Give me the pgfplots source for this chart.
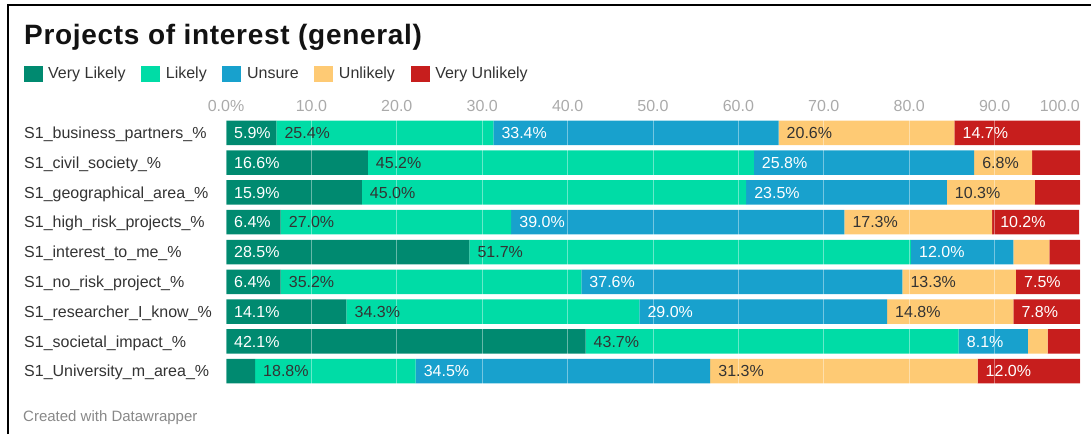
\documentclass[border=0pt]{standalone}
\usepackage{fontspec}
\setmainfont{Liberation Sans}
\newfontfamily\titlefont[LetterSpace=2.5]{Liberation Sans}
\usepackage{pgfplots}
\pgfplotsset{compat=1.18}

\definecolor{vlik}{RGB}{0,138,112}
\definecolor{lik}{RGB}{0,220,166}
\definecolor{uns}{RGB}{24,161,205}
\definecolor{unl}{RGB}{254,202,116}
\definecolor{vunl}{RGB}{199,30,29}
\definecolor{txtdark}{RGB}{51,51,51}
\definecolor{tickgray}{RGB}{170,170,170}
\definecolor{footgray}{RGB}{136,136,136}

\newcommand\fs[1]{\fontsize{#1}{#1}\selectfont}

\begin{document}
\begin{tikzpicture}
\path[use as bounding box] (0pt,0pt) rectangle (1091pt,-434pt);
% screenshot frame
\draw[line width=2.5pt] (8pt,-434pt) -- (8pt,-5pt) -- (1091pt,-5pt);

% title and footer
\node[anchor=base west, inner sep=0pt, font=\titlefont\fs{28}\bfseries, text=black!93] at (24pt,-44pt) {Projects of interest (general)};
\node[anchor=base west, inner sep=0pt, font=\fs{15}, text=footgray] at (23pt,-421pt) {Created with Datawrapper};

% legend
\fill[vlik] (23.5pt,-66pt) rectangle ++(19pt,-16pt);
\node[anchor=base west, inner sep=0pt, font=\fs{16}, text=txtdark] (l1) at (48pt,-78pt) {Very Likely};
\path (l1.base east) ++(15.5pt,12pt) coordinate (s2);
\fill[lik] (s2) rectangle ++(19pt,-16pt);
\node[anchor=base west, inner sep=0pt, font=\fs{16}, text=txtdark] (l2) at ([xshift=24.4pt,yshift=-12pt]s2) {Likely};
\path (l2.base east) ++(15.5pt,12pt) coordinate (s3);
\fill[uns] (s3) rectangle ++(19pt,-16pt);
\node[anchor=base west, inner sep=0pt, font=\fs{16}, text=txtdark] (l3) at ([xshift=24.4pt,yshift=-12pt]s3) {Unsure};
\path (l3.base east) ++(15.5pt,12pt) coordinate (s4);
\fill[unl] (s4) rectangle ++(19pt,-16pt);
\node[anchor=base west, inner sep=0pt, font=\fs{16}, text=txtdark] (l4) at ([xshift=24.4pt,yshift=-12pt]s4) {Unlikely};
\path (l4.base east) ++(15.5pt,12pt) coordinate (s5);
\fill[vunl] (s5) rectangle ++(19pt,-16pt);
\node[anchor=base west, inner sep=0pt, font=\fs{16}, text=txtdark] at ([xshift=24.4pt,yshift=-12pt]s5) {Very Unlikely};

\begin{axis}[
    at={(226pt,-118pt)}, anchor=north west,
    scale only axis, width=854pt, height=268pt,
    xbar stacked, bar width=24.5pt,
    xmin=0, xmax=100, ymin=-0.5, ymax=8.5, y dir=reverse,
    ytick={0,...,8},
    yticklabels={S1\_business\_partners\_\%, S1\_civil\_society\_\%, S1\_geographical\_area\_\%,
        S1\_high\_risk\_projects\_\%, S1\_interest\_to\_me\_\%, S1\_no\_risk\_project\_\%,
        S1\_researcher\_I\_know\_\%, S1\_societal\_impact\_\%, S1\_University\_m\_area\_\%},
    xtick={0,10,...,90},
    xticklabels={0.0\%,10.0,20.0,30.0,40.0,50.0,60.0,70.0,80.0,90.0},
    extra x ticks={100}, extra x tick labels={100.0},
    extra x tick style={x tick label style={anchor=south east}},
    xticklabel pos=upper,
    axis line style={draw=none}, major tick length=0pt,
    xmajorgrids, grid style={white, opacity=0.4, line width=0.8pt},
    axis on top,
    x tick label style={font=\fs{16}, text=tickgray, anchor=south, inner sep=0pt, yshift=6pt},
    y tick label style={font=\fs{16}, text=txtdark, anchor=base west, inner sep=0pt, xshift=-202pt, yshift=-5.7pt},
    nodes near coords, point meta=explicit symbolic,
    visualization depends on=rawx\as\rawx,
    every node near coord/.append style={anchor=base west, inner sep=0pt, font=\fs{16},
        shift={(axis direction cs:-\rawx/2,0)}, xshift=8pt, yshift=-5.7pt},
]
% Very Likely
\addplot[fill=vlik, draw=none, every node near coord/.append style={text=white}] coordinates {
    (5.9,0) [5.9\%] (16.6,1) [16.6\%] (15.9,2) [15.9\%] (6.4,3) [6.4\%] (28.5,4) [28.5\%]
    (6.4,5) [6.4\%] (14.1,6) [14.1\%] (42.1,7) [42.1\%] (3.4,8) []
};
% Likely
\addplot[fill=lik, draw=none, every node near coord/.append style={text=txtdark}] coordinates {
    (25.4,0) [25.4\%] (45.2,1) [45.2\%] (45.0,2) [45.0\%] (27.0,3) [27.0\%] (51.7,4) [51.7\%]
    (35.2,5) [35.2\%] (34.3,6) [34.3\%] (43.7,7) [43.7\%] (18.8,8) [18.8\%]
};
% Unsure
\addplot[fill=uns, draw=none, every node near coord/.append style={text=white}] coordinates {
    (33.4,0) [33.4\%] (25.8,1) [25.8\%] (23.5,2) [23.5\%] (39.0,3) [39.0\%] (12.0,4) [12.0\%]
    (37.6,5) [37.6\%] (29.0,6) [29.0\%] (8.1,7) [8.1\%] (34.5,8) [34.5\%]
};
% Unlikely
\addplot[fill=unl, draw=none, every node near coord/.append style={text=txtdark}] coordinates {
    (20.6,0) [20.6\%] (6.8,1) [6.8\%] (10.3,2) [10.3\%] (17.3,3) [17.3\%] (4.2,4) []
    (13.3,5) [13.3\%] (14.8,6) [14.8\%] (2.3,7) [] (31.3,8) [31.3\%]
};
% Very Unlikely
\addplot[fill=vunl, draw=none, every node near coord/.append style={text=white}] coordinates {
    (14.7,0) [14.7\%] (5.6,1) [] (5.3,2) [] (10.2,3) [10.2\%] (3.6,4) []
    (7.5,5) [7.5\%] (7.8,6) [7.8\%] (3.8,7) [] (12.0,8) [12.0\%]
};
\end{axis}
\end{tikzpicture}
\end{document}
